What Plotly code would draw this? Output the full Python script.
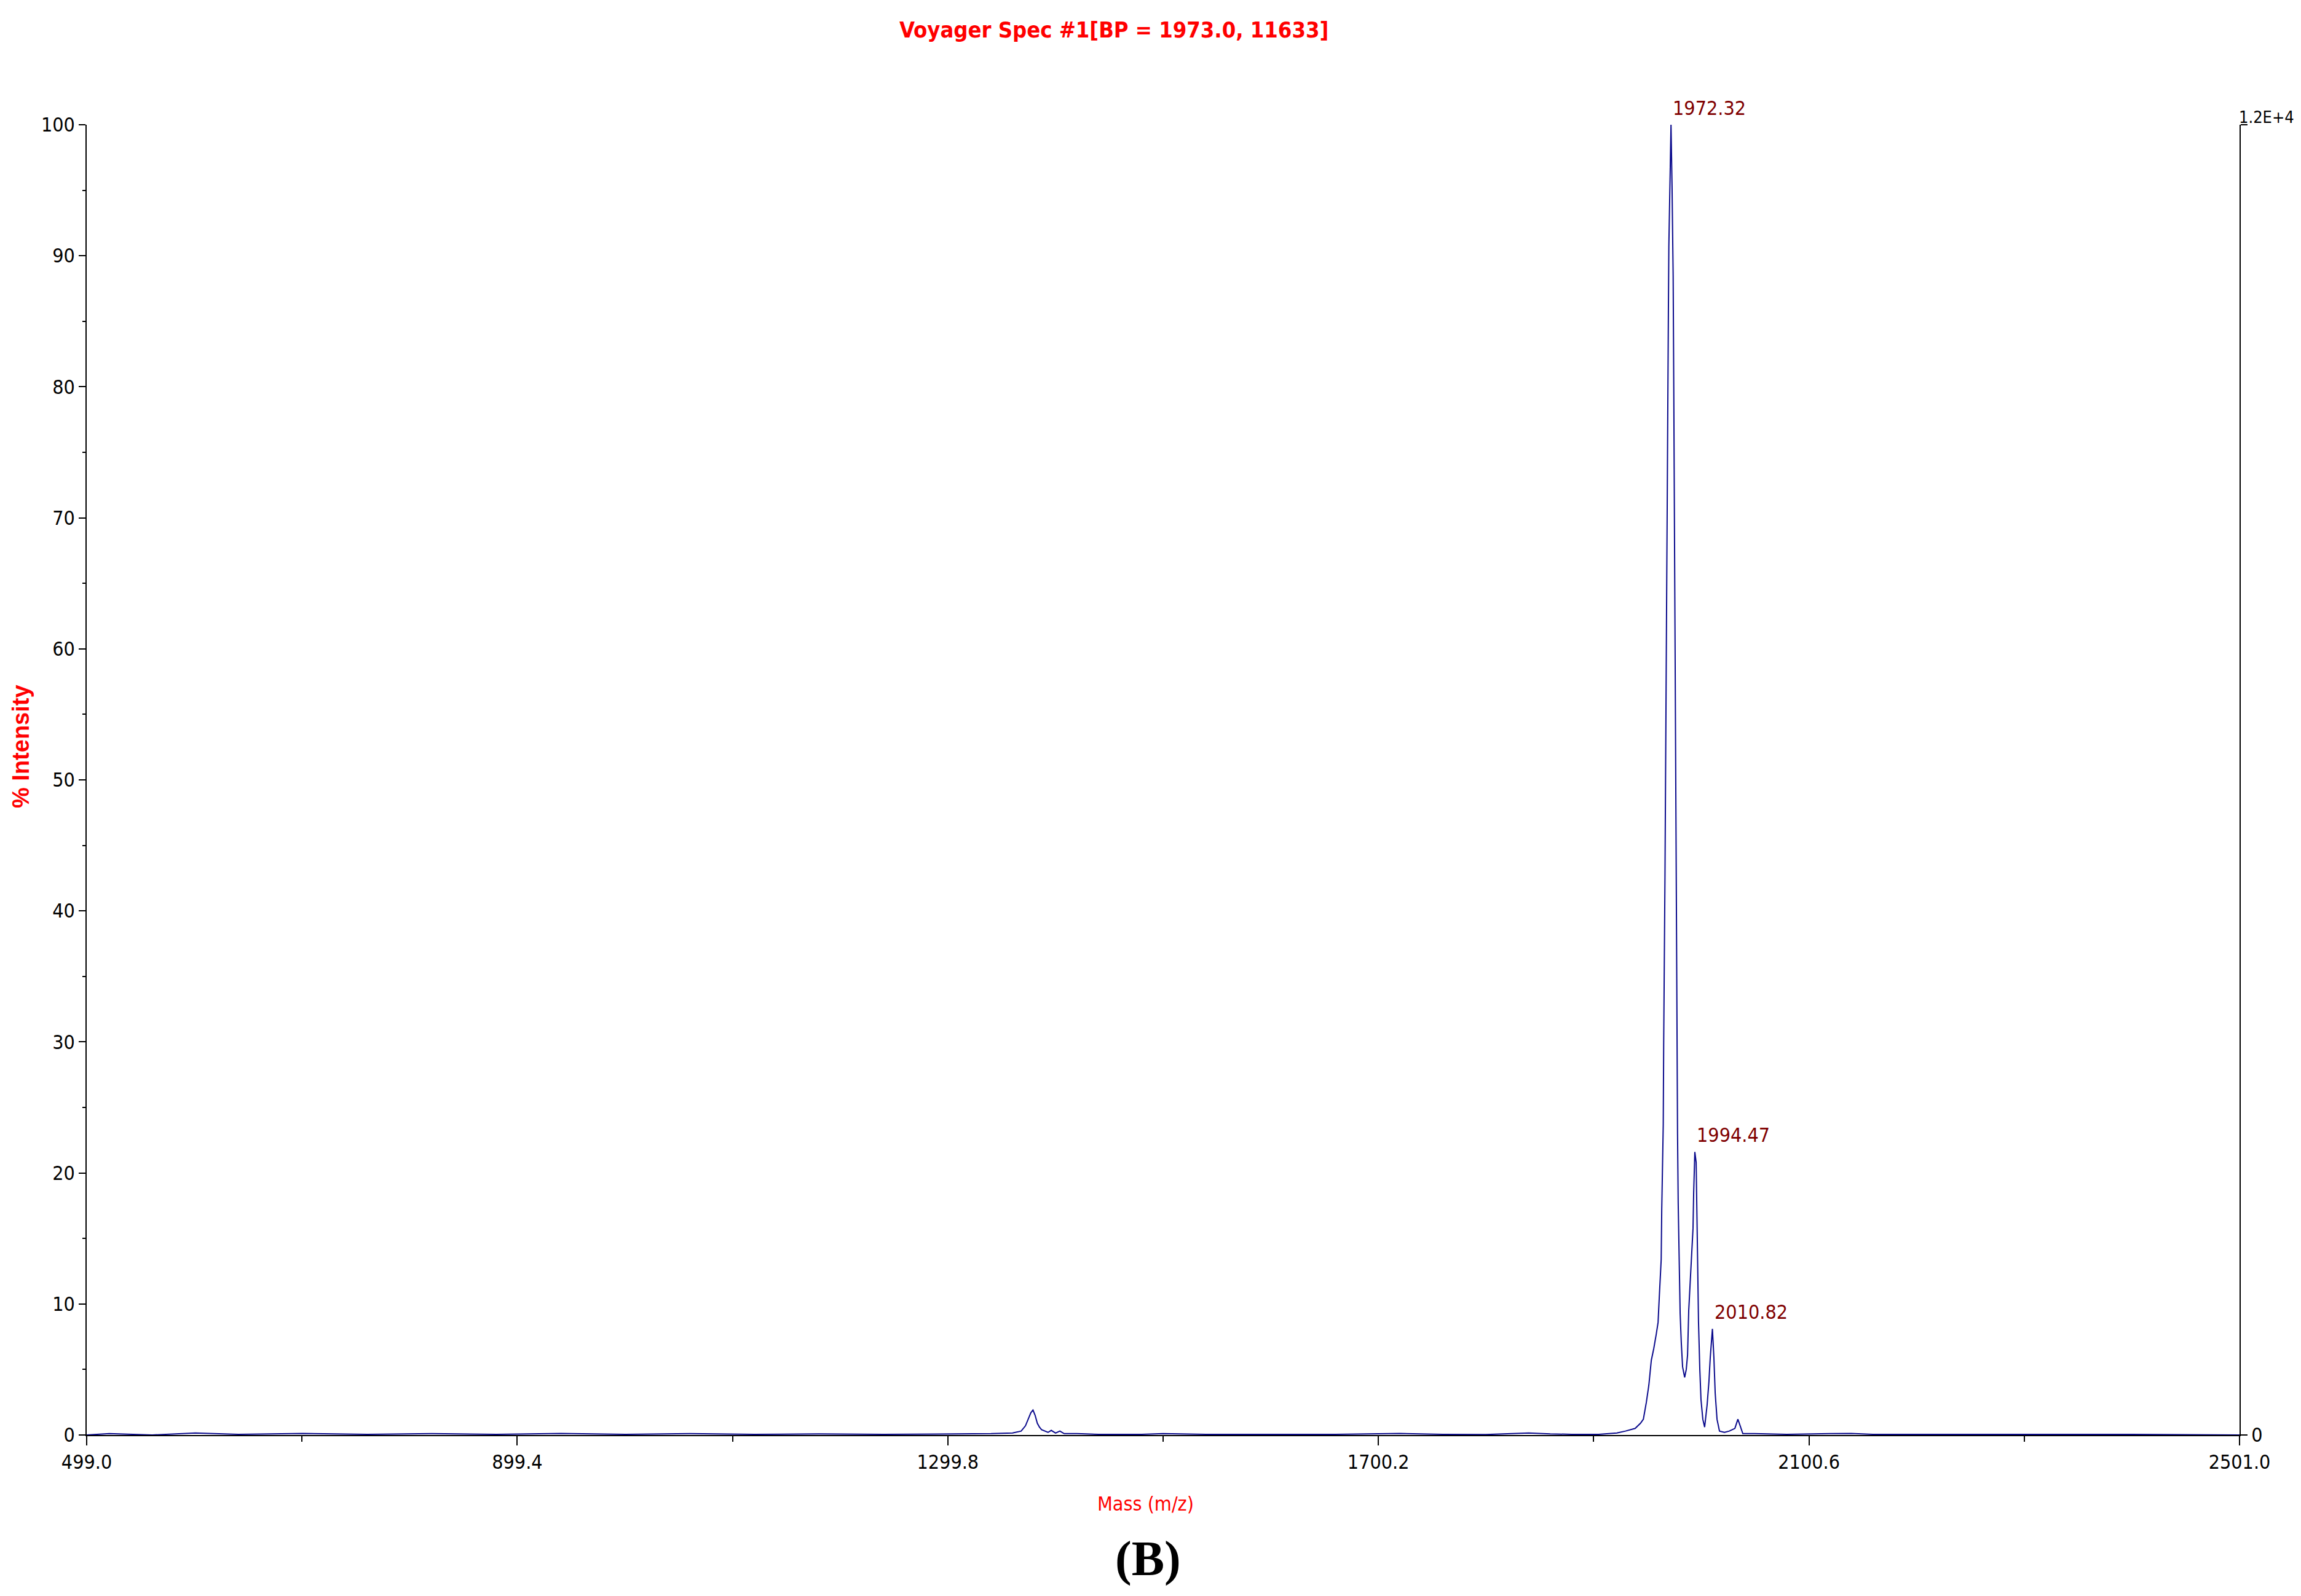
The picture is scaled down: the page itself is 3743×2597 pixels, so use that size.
import plotly.graph_objects as go

# ---- data ----
mass = [499.0, 520, 560, 600, 640, 700, 760, 820, 880, 940, 1000, 1060, 1120, 1180, 1240, 1300,
        1340, 1360, 1368, 1372, 1375, 1377, 1379.0, 1381, 1383, 1385, 1387, 1390, 1393, 1396, 1400,
        1404, 1408, 1420, 1440, 1480, 1500, 1540, 1600, 1660, 1720, 1760, 1800, 1840, 1860, 1880,
        1905, 1915, 1922, 1930, 1939, 1944, 1946.6, 1949.4, 1951.7, 1954.0, 1956.3, 1958.6, 1960.3,
        1961.4, 1963.2, 1963.7, 1964.3, 1965.1, 1965.5, 1966.1, 1966.7, 1967.2, 1967.8, 1968.4,
        1968.7, 1969.3, 1969.9, 1970.3, 1971.4, 1972.32, 1973.3, 1974.3, 1974.9, 1975.6, 1976.2,
        1976.8, 1977.5, 1978.1, 1978.4, 1979.0, 1980.2, 1980.8, 1981.9, 1983.1, 1985.0, 1986.5,
        1987.7, 1988.8, 1990.5, 1991.7, 1992.8, 1993.4, 1994.47, 1995.7, 1996.8, 1997.4, 1997.9,
        1999.1, 2000.2, 2001.9, 2003.6, 2005.9, 2007.6, 2008.8, 2010.82, 2012.2, 2013.4, 2015.1,
        2017.4, 2022, 2026.5, 2031.7, 2034.5, 2036.2, 2039.1, 2050, 2080, 2120, 2140, 2160, 2200,
        2250, 2300, 2350, 2400, 2501.0]
intensity = [0.0, 0.1, 0.0, 0.15, 0.05, 0.12, 0.05, 0.1, 0.05, 0.12, 0.05, 0.1, 0.05, 0.08, 0.05, 0.08,
             0.1, 0.15, 0.3, 0.7, 1.3, 1.7, 1.9, 1.5, 0.9, 0.6, 0.4, 0.3, 0.2, 0.35, 0.15,
             0.3, 0.1, 0.1, 0.05, 0.05, 0.1, 0.05, 0.05, 0.05, 0.12, 0.05, 0.03, 0.15, 0.08, 0.05,
             0.05, 0.1, 0.15, 0.3, 0.5, 0.9, 1.2, 2.5, 3.8, 5.7, 6.6, 7.7, 8.6,
             10.5, 13.4, 17.2, 19.7, 23.7, 29.8, 35.2, 42.6, 49.5, 58.4, 67.0,
             74.2, 80.3, 86.0, 90.7, 95.6, 100.0, 95.2, 88.5, 79.6, 68.8, 55.4,
             44.3, 35.4, 27.0, 23.0, 17.7, 12.2, 9.3, 7.0, 5.2, 4.4, 5.0,
             6.1, 9.5, 12.2, 14.0, 15.8, 18.5, 21.6, 20.8, 14.9, 11.3, 8.6,
             5.0, 2.7, 1.2, 0.6, 2.3, 4.1, 5.9, 8.1, 5.9, 3.2, 1.2,
             0.3, 0.2, 0.3, 0.5, 1.2, 0.8, 0.1, 0.1, 0.05, 0.1, 0.12, 0.05, 0.05,
             0.03, 0.05, 0.03, 0.05, 0.0]

peak_mass = [1972.32, 1994.47, 2010.82]
peak_int = [100.0, 21.6, 8.1]
peak_labels = ["1972.32", "1994.47", "2010.82"]

x_ticks = [499.0, 899.4, 1299.8, 1700.2, 2100.6, 2501.0]
x_minor = [699.2, 1099.6, 1500.0, 1900.4, 2300.8]
y_ticks = [0, 10, 20, 30, 40, 50, 60, 70, 80, 90, 100]
right_ticks = [0, 100]
right_labels = ["0", "1.2E+4"]

title_text = "Voyager Spec #1[BP = 1973.0, 11633]"
x_title = "Mass (m/z)"
y_title = "% Intensity"
panel_label = "(B)"

NARROW = "Liberation Sans Narrow, Arial Narrow, DejaVu Sans Condensed, Liberation Sans, Arial"

# the page body has an 8px margin, so the figure is drawn 16px smaller and all
# reference pixel positions are shifted by 8px
OFF = 8
W, H = 3743 - 2 * OFF, 2597 - 2 * OFF
PLOT_L, PLOT_R, PLOT_T, PLOT_B = 141, 3643, 203, 2335   # reference pixel frame
L = PLOT_L - OFF
T = PLOT_T - OFF
R = W - (PLOT_R - OFF)
B = H - (PLOT_B - OFF)
pw, ph = W - L - R, H - T - B

def px(X):
    return (X - OFF - L) / pw

def py(Y):
    return (H - B - (Y - OFF)) / ph

fig = go.Figure()
fig.add_trace(go.Scatter(x=mass, y=intensity, mode="lines",
                         line=dict(color="#0a0a8c", width=2),
                         showlegend=False, hoverinfo="skip"))
fig.add_trace(go.Scatter(x=[x_ticks[0], x_ticks[-1]], y=[0, 0], yaxis="y2", mode="lines",
                         line=dict(width=0, color="rgba(0,0,0,0)"), showlegend=False,
                         hoverinfo="skip"))

annotations = []
for m, v, t in zip(peak_mass, peak_int, peak_labels):
    annotations.append(dict(x=m, y=v, xref="x", yref="y", text=t, showarrow=False,
                            xanchor="left", yanchor="bottom", xshift=1, yshift=6,
                            font=dict(family=NARROW, size=32, color="#800000")))

annotations += [
    dict(x=px(1812), y=py(48), xref="paper", yref="paper", text=title_text, showarrow=False,
         xanchor="center", yanchor="middle",
         font=dict(family=NARROW, size=36, color="#ff0000", weight="bold")),
    dict(x=px(1863), y=py(2447), xref="paper", yref="paper", text=x_title, showarrow=False,
         xanchor="center", yanchor="middle",
         font=dict(family=NARROW, size=32, color="#ff0000")),
    dict(x=px(34), y=py(1215), xref="paper", yref="paper", text=y_title, showarrow=False,
         xanchor="center", yanchor="middle", textangle=-90,
         font=dict(family="Liberation Sans, Arial", size=38, color="#ff0000", weight="bold")),
    dict(x=px(1867), y=py(2583), xref="paper", yref="paper", text=panel_label, showarrow=False,
         xanchor="center", yanchor="bottom",
         font=dict(family="Liberation Serif, Times New Roman, serif", size=80, color="#000000",
                   weight="bold")),
    dict(x=px(3734), y=py(190), xref="paper", yref="paper", text=right_labels[1],
         showarrow=False, xanchor="right", yanchor="middle",
         font=dict(family=NARROW, size=27, color="black")),
]

fig.update_layout(
    width=W, height=H,
    margin=dict(l=L, r=R, t=T, b=B, pad=0, autoexpand=False),
    paper_bgcolor="white", plot_bgcolor="white",
    showlegend=False,
    annotations=annotations,
    xaxis=dict(range=[x_ticks[0], x_ticks[-1]], tickvals=x_ticks, automargin=False,
               ticktext=[f"{v:.1f}" for v in x_ticks],
               showgrid=False, zeroline=False, showline=True, linecolor="black", linewidth=1.5,
               ticks="outside", ticklen=15, tickwidth=1.5, tickcolor="black",
               minor=dict(tickvals=x_minor, ticks="outside",
                          ticklen=9, tickwidth=1.5, tickcolor="black", showgrid=False),
               tickfont=dict(family=NARROW, size=32, color="black")),
    yaxis=dict(range=[0, 100], tickvals=y_ticks, showgrid=False, zeroline=False, automargin=False,
               showline=True, linecolor="black", linewidth=1.5,
               ticks="outside", ticklen=11, tickwidth=1.5, tickcolor="black",
               minor=dict(dtick=5, tick0=0, ticks="outside", ticklen=5, tickwidth=1.5,
                          tickcolor="black", showgrid=False),
               tickfont=dict(family=NARROW, size=32, color="black")),
    yaxis2=dict(range=[0, 100], overlaying="y", side="right", tickvals=right_ticks,
                ticktext=[right_labels[0], ""], showgrid=False, zeroline=False, showline=True,
                automargin=False,
                linecolor="black", linewidth=1.5, ticks="outside", ticklen=11, tickwidth=1.5,
                tickcolor="black", tickfont=dict(family=NARROW, size=32, color="black")),
)

fig.write_html("out.html")
